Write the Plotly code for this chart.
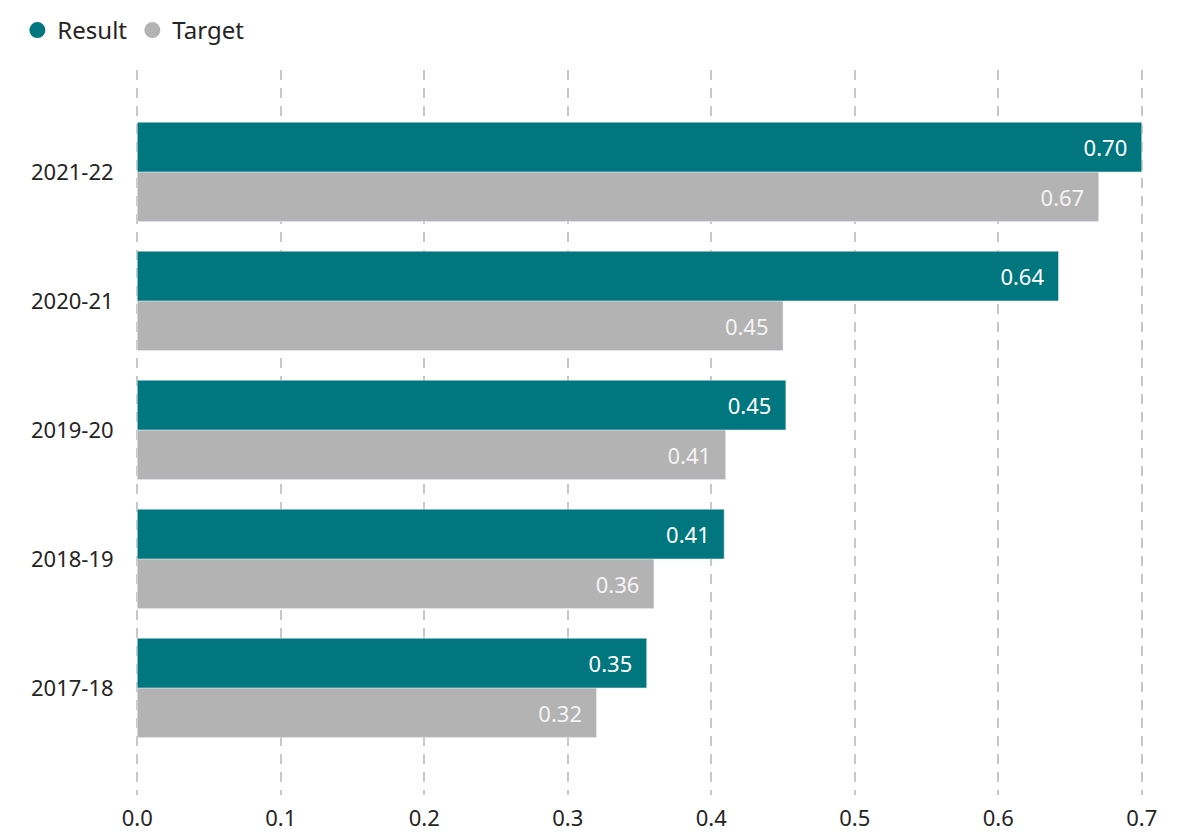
import plotly.graph_objects as go

# Data
years = ["2017-18", "2018-19", "2019-20", "2020-21", "2021-22"]
result = [0.355, 0.409, 0.452, 0.642, 0.700]
target = [0.320, 0.360, 0.410, 0.450, 0.670]

font_family = "Segoe UI, Noto Sans, Open Sans, sans-serif"
teal = "#00767F"
grey = "#B3B3B3"
pad = "\u00a0\u00a0"

fig = go.Figure()

# Target first so that Result sits on top within each group (horizontal bars stack bottom-up)
fig.add_trace(go.Bar(
    y=years, x=target, orientation="h", name="Target",
    marker=dict(color=grey),
    texttemplate="%{x:.2f}" + pad, textposition="inside", insidetextanchor="end",
    textfont=dict(color="#F4F4F4", size=22, family=font_family),
    showlegend=False,
))
fig.add_trace(go.Bar(
    y=years, x=result, orientation="h", name="Result",
    marker=dict(color=teal),
    texttemplate="%{x:.2f}" + pad, textposition="inside", insidetextanchor="end",
    textfont=dict(color="white", size=22, family=font_family),
    showlegend=False,
))

# legend entries with round markers
for name, color in [("Result", teal), ("Target", grey)]:
    fig.add_trace(go.Scatter(
        x=[None], y=[None], mode="markers", name=name,
        marker=dict(color=color, size=19, symbol="circle"),
    ))

# the page body has an 8px margin, so the figure is a bit smaller than the window
fig.update_layout(
    width=1170, height=828,
    barmode="group", bargap=0.23, bargroupgap=0,
    plot_bgcolor="white", paper_bgcolor="white",
    font=dict(family=font_family, color="#252423", size=22),
    margin=dict(l=125, r=32, t=62, b=41, autoexpand=False),
    legend=dict(
        orientation="h",
        xref="container", yref="container", x=0.008, y=1.0,
        xanchor="left", yanchor="top",
        font=dict(size=24, color="#252423"),
        itemwidth=30, tracegroupgap=0,
    ),
    xaxis=dict(
        range=[-0.003, 0.703], dtick=0.1, tickformat=".1f",
        showgrid=True, gridcolor="#C8C8C8", gridwidth=2, griddash="10px,8px",
        zeroline=False, showline=False, automargin=False,
        ticks="outside", ticklen=4, tickcolor="rgba(0,0,0,0)",
        tickfont=dict(size=22, color="#252423"),
    ),
    yaxis=dict(
        range=[-0.83, 4.79],
        showgrid=False, zeroline=False, showline=False, automargin=False,
        ticks="outside", ticklen=14, tickcolor="rgba(0,0,0,0)",
        tickfont=dict(size=22, color="#252423"),
    ),
)

fig.write_html("out.html")
